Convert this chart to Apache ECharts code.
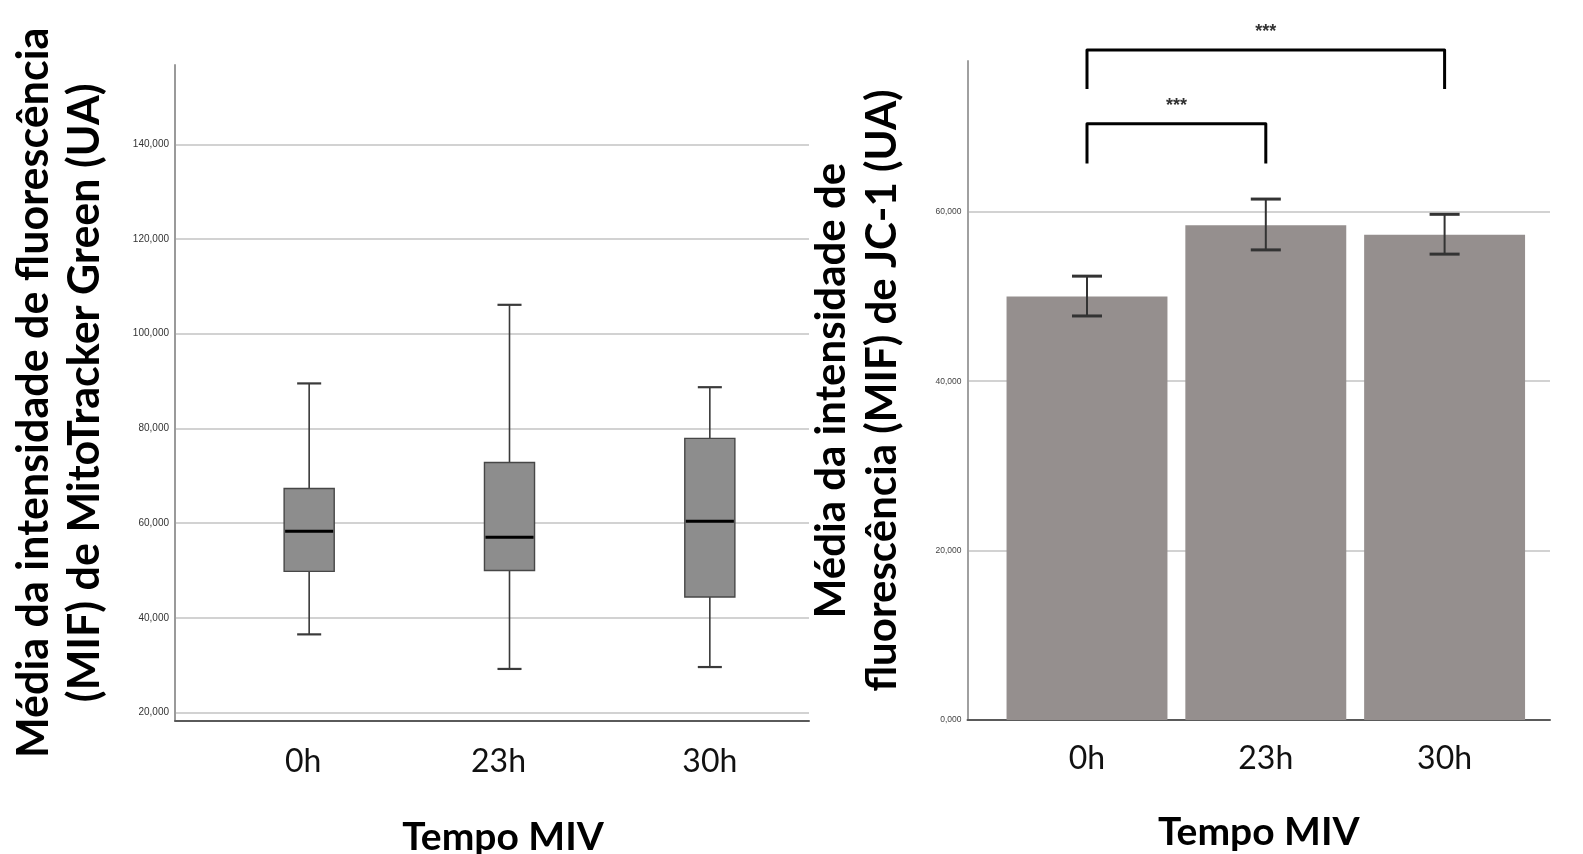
<!DOCTYPE html>
<html lang="pt">
<head>
    <meta charset="UTF-8">
    <title>MitoTracker Green / JC-1</title>
    <script src="https://cdn.jsdelivr.net/npm/echarts@6/dist/echarts.min.js"></script>
    <style>
        html, body {margin: 0; padding: 0; background: #ffffff;}
        #chart {width: 1583px; height: 854px;}
    </style>
</head>
<body>
<div id="chart"></div>
<script>
    // categorias (tempo MIV)
    const categories = ['0h', '23h', '30h'];

    // boxplot MitoTracker Green
    const boxLow = [36500, 29200, 29600];
    const boxQ1 = [49800, 50000, 44400];
    const boxMedian = [58300, 57000, 60400];
    const boxQ3 = [67300, 72800, 77900];
    const boxHigh = [89500, 106100, 88700];

    // barras JC-1 (média e barra de erro)
    const barMean = [50000, 58400, 57300];
    const errLow = [47700, 55500, 55000];
    const errHigh = [52400, 61500, 59700];

    // significância
    const bracketFrom = [0, 0];
    const bracketTo = [2, 1];
    const bracketLegY = [74500, 65700];
    const bracketTopY = [79100, 70400];
    const bracketLabel = ['***', '***'];

    const titleFont = 'Lato';
    const tickFont = "'Liberation Sans', sans-serif";

    function fmt(v) {
        return (v / 1000).toFixed(3).replace('.', ',');
    }

    const chart = echarts.init(document.getElementById('chart'));

    const nameStyle = {
        fontFamily: titleFont,
        fontWeight: 'bold',
        fontSize: 39,
        lineHeight: 51,
        color: '#000'
    };
    const catLabel = {
        fontFamily: titleFont,
        fontSize: 32,
        color: '#111'
    };

    const boxData = categories.map((c, i) => [i, boxLow[i], boxQ1[i], boxMedian[i], boxQ3[i], boxHigh[i]]);
    const errData = categories.map((c, i) => [i, errLow[i], errHigh[i]]);
    const bracketData = bracketFrom.map((f, i) => [f, bracketTo[i], bracketLegY[i], bracketTopY[i], bracketLabel[i]]);

    function renderBox(params, api) {
        const x = api.value(0);
        const band = api.size([1, 0])[0];
        const bw = band * 0.25 / 2;
        const cw = band * 0.12 / 2;
        const pl = api.coord([x, api.value(1)]);
        const p1 = api.coord([x, api.value(2)]);
        const pm = api.coord([x, api.value(3)]);
        const p3 = api.coord([x, api.value(4)]);
        const ph = api.coord([x, api.value(5)]);
        const cx = pl[0];
        const line = (x1, y1, x2, y2, w, c) => ({
            type: 'line',
            shape: {x1: x1, y1: y1, x2: x2, y2: y2},
            style: {stroke: c || '#3a3a3a', lineWidth: w}
        });
        return {
            type: 'group',
            children: [
                line(cx, ph[1], cx, p3[1], 1.6),
                line(cx, p1[1], cx, pl[1], 1.6),
                line(cx - cw, ph[1], cx + cw, ph[1], 2.2),
                line(cx - cw, pl[1], cx + cw, pl[1], 2.2),
                {
                    type: 'rect',
                    shape: {x: cx - bw, y: p3[1], width: bw * 2, height: p1[1] - p3[1]},
                    style: {fill: '#8d8d8d', stroke: '#474747', lineWidth: 1.4}
                },
                line(cx - bw + 1, pm[1], cx + bw - 1, pm[1], 3, '#000')
            ]
        };
    }

    function renderErr(params, api) {
        const x = api.value(0);
        const band = api.size([1, 0])[0];
        const cw = band * 0.168 / 2;
        const lo = api.coord([x, api.value(1)]);
        const hi = api.coord([x, api.value(2)]);
        const cx = lo[0];
        return {
            type: 'group',
            children: [
                {type: 'line', shape: {x1: cx, y1: hi[1], x2: cx, y2: lo[1]}, style: {stroke: '#333', lineWidth: 2}},
                {type: 'line', shape: {x1: cx - cw, y1: hi[1], x2: cx + cw, y2: hi[1]}, style: {stroke: '#333', lineWidth: 3}},
                {type: 'line', shape: {x1: cx - cw, y1: lo[1], x2: cx + cw, y2: lo[1]}, style: {stroke: '#333', lineWidth: 3}}
            ]
        };
    }

    function renderBracket(params, api) {
        const a = api.coord([api.value(0), api.value(3)]);
        const b = api.coord([api.value(1), api.value(3)]);
        const leg = api.coord([api.value(0), api.value(2)]);
        return {
            type: 'group',
            children: [
                {
                    type: 'polyline',
                    shape: {points: [[a[0], leg[1]], [a[0], a[1]], [b[0], b[1]], [b[0], leg[1]]]},
                    style: {stroke: '#000', lineWidth: 3, fill: null, lineJoin: 'round'}
                },
                {
                    type: 'text',
                    style: {
                        text: api.value(4),
                        x: (a[0] + b[0]) / 2,
                        y: a[1] - 18,
                        align: 'center',
                        verticalAlign: 'middle',
                        font: 'bold 18px "Liberation Sans", sans-serif',
                        fill: '#333'
                    }
                }
            ]
        };
    }

    const hidden = {show: false};

    const option = {
        backgroundColor: '#ffffff',
        animation: false,
        grid: [
            // esquerda: moldura, grade, caixas
            {left: 175, top: 65, width: 634, height: 655.5, outerBoundsMode: 'none'},
            {left: 175, top: 144.3, width: 634, height: 568.2, outerBoundsMode: 'none'},
            {left: 209, top: 144.3, width: 601, height: 568.2, outerBoundsMode: 'none'},
            // direita: moldura+grade, barras
            {left: 967.5, top: 61, width: 582.5, height: 659, outerBoundsMode: 'none'},
            {left: 997.6, top: 61, width: 536.4, height: 659, outerBoundsMode: 'none'}
        ],
        xAxis: [
            {
                gridIndex: 0, type: 'category', data: [''],
                axisLine: {show: true, lineStyle: {color: '#5a5a5a', width: 2}},
                axisTick: hidden, axisLabel: hidden, splitLine: hidden
            },
            {gridIndex: 1, type: 'category', data: [''], show: false},
            {
                gridIndex: 2, type: 'category', data: categories,
                axisLine: hidden, axisTick: hidden, splitLine: hidden,
                axisLabel: {
                    margin: 33, ...catLabel,
                    formatter: (v, i) => '{c' + i + '|' + v + '}',
                    rich: {
                        c0: {...catLabel, padding: [0, 12, 6, 0]},
                        c1: {...catLabel, padding: [0, 22, 0, 0]},
                        c2: {...catLabel}
                    }
                },
                name: 'Tempo MIV', nameLocation: 'middle', nameGap: 99,
                nameMoveOverlap: false,
                nameTextStyle: {...nameStyle, padding: [0, 13, 0, 0]}
            },
            {
                gridIndex: 3, type: 'category', data: [''],
                axisLine: {show: true, lineStyle: {color: '#5a5a5a', width: 2}},
                axisTick: hidden, axisLabel: hidden, splitLine: hidden,
                name: 'Tempo MIV', nameLocation: 'middle', nameGap: 87,
                nameMoveOverlap: false,
                nameTextStyle: nameStyle
            },
            {
                gridIndex: 4, type: 'category', data: categories,
                axisLine: hidden, axisTick: hidden, splitLine: hidden,
                axisLabel: {margin: 23, ...catLabel}
            }
        ],
        yAxis: [
            {
                gridIndex: 0, type: 'value', min: 0, max: 1,
                axisLine: {show: true, lineStyle: {color: '#9a9a9a', width: 2}},
                axisTick: hidden, axisLabel: hidden, splitLine: hidden,
                name: 'Média da intensidade de fluorescência\n(MIF) de MitoTracker Green (UA)',
                nameLocation: 'middle', nameRotate: 90, nameGap: 64,
                nameMoveOverlap: false,
                nameTextStyle: {...nameStyle, fontSize: 43, align: 'center'}
            },
            {
                gridIndex: 1, type: 'value', min: 20000, max: 140000, interval: 20000,
                axisLine: hidden, axisTick: hidden,
                axisLabel: {margin: 6, fontFamily: tickFont, fontSize: 10, color: '#333', formatter: fmt},
                splitLine: {show: true, lineStyle: {color: '#d2d2d2', width: 2}}
            },
            {gridIndex: 2, type: 'value', min: 20000, max: 140000, show: false},
            {
                gridIndex: 3, type: 'value', min: 0, max: 77800, interval: 20000,
                axisLine: {show: true, lineStyle: {color: '#a0a0a0', width: 2}},
                axisTick: hidden,
                axisLabel: {margin: 6, fontFamily: tickFont, fontSize: 8.5, color: '#444', formatter: fmt, showMaxLabel: false},
                splitLine: {show: true, showMaxLine: false, showMinLine: false, lineStyle: {color: '#d2d2d2', width: 2}},
                name: 'Média da intensidade de\nfluorescência (MIF) de JC-1 (UA)',
                nameLocation: 'middle', nameRotate: 90, nameGap: 60,
                nameMoveOverlap: false,
                nameTextStyle: {...nameStyle, fontSize: 42, align: 'center'}
            },
            {gridIndex: 4, type: 'value', min: 0, max: 77800, show: false}
        ],
        series: [
            {
                type: 'custom',
                xAxisIndex: 2, yAxisIndex: 2,
                renderItem: renderBox,
                encode: {x: 0, y: [1, 2, 3, 4, 5]},
                data: boxData,
                z: 5
            },
            {
                type: 'bar',
                xAxisIndex: 4, yAxisIndex: 4,
                barWidth: '90%',
                itemStyle: {color: '#958f8e'},
                data: barMean
            },
            {
                type: 'custom',
                xAxisIndex: 4, yAxisIndex: 4,
                renderItem: renderErr,
                encode: {x: 0, y: [1, 2]},
                data: errData,
                z: 5
            },
            {
                type: 'custom',
                xAxisIndex: 4, yAxisIndex: 4,
                clip: false,
                renderItem: renderBracket,
                encode: {x: [0, 1], y: [2, 3]},
                data: bracketData,
                z: 5
            }
        ]
    };

    chart.setOption(option);
</script>
</body>
</html>
